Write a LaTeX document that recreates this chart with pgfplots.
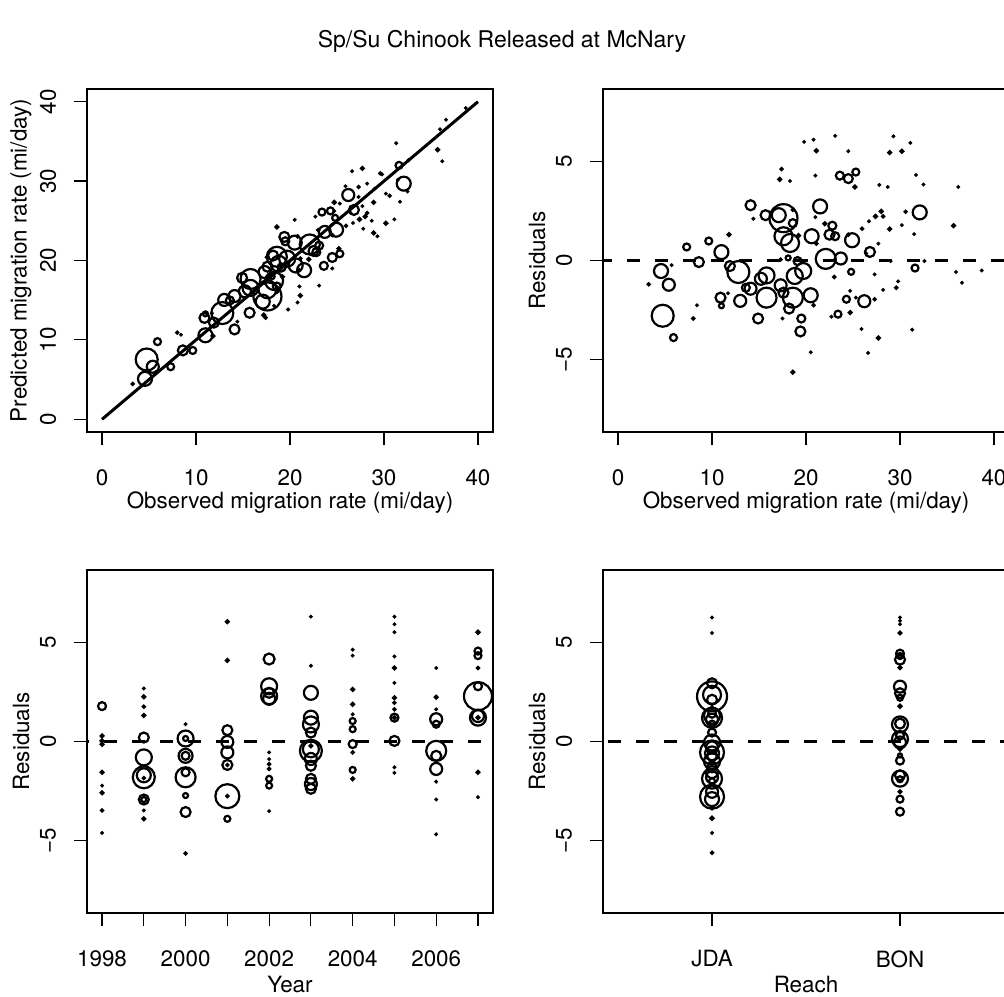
\documentclass[border=0pt]{standalone}
\usepackage{fontspec}
\setmainfont{TeX Gyre Heros}
\usepackage{pgfplots}
\usepackage{pgfplotstable}
\pgfplotsset{compat=1.18}

% observed rate, residual (obs - pred), circle radius (px)
\pgfplotstableread{
x y r
19.8 5.97 0.6
20.8 6.08 0.6
23.1 6.27 0.6
29.3 6.25 0.6
31.1 5.92 0.6
21.1 5.52 1.4
24.5 5.50 0.6
28.9 5.43 1.4
30.2 5.50 1.4
17.4 4.60 1.0
17.2 4.08 1.4
18.3 4.00 0.6
21.0 4.27 0.6
23.6 4.27 4
24.5 4.12 4.5
25.3 4.45 3.5
25.2 3.70 1.4
27.8 3.80 0.6
28.7 3.70 0.6
31.7 4.30 0.6
32.5 3.82 0.6
36.2 3.70 0.6
14.1 2.78 5
14.4 2.10 0.6
15.7 2.28 5
17.1 2.28 7
17.6 2.13 14
18.6 2.55 1.0
18.6 1.88 4
17.6 1.22 9
18.3 0.88 9
19.2 1.25 1.4
20.6 1.22 7
21.5 2.72 7
21.0 2.18 0.6
21.1 0.85 1.0
22.0 1.85 1.4
22.8 1.75 4
22.5 1.30 5
23.1 1.22 4
24.5 1.30 1.0
24.9 1.02 7
25.96 1.60 1.0
26.7 1.97 0.6
27.4 2.22 1.4
28.0 2.47 1.4
28.2 2.22 1.0
28.9 1.58 1.4
30.2 1.78 0.6
30.6 2.45 1.0
32.1 2.42 7
31.5 1.33 0.6
35.7 1.75 1.4
27.7 0.85 0.6
26.8 0.43 5
26.4 0.35 0.6
11.8 1.30 1.4
9.65 0.98 3.5
7.3 0.68 3.5
11.0 0.42 7
8.6 -0.08 5
5.7 -0.23 0.6
4.57 -0.53 7
5.4 -1.22 6
3.26 -1.20 1.0
4.75 -2.78 11
5.9 -3.88 3.5
8.4 -2.25 0.6
8.0 -2.92 1.0
11.9 -0.28 5
12.8 -0.58 11
10.9 -1.87 5
11.0 -2.28 2.5
11.7 -1.65 0.6
13.0 -2.03 6
13.6 -1.37 4
14.1 -1.42 6
15.2 -0.92 6
15.8 -0.75 8
14.9 -2.92 5
15.8 -1.87 10
17.3 -1.25 6
17.6 -1.62 5
18.6 -1.87 10
18.8 -0.78 8
19.7 -0.53 8
19.1 -0.03 4
18.2 -2.42 5
17.5 -2.92 0.6
19.5 -2.92 4
19.4 -3.57 5
20.5 -1.75 7
20.8 -2.25 1.0
20.5 -4.62 0.6
18.6 -5.62 1.4
17.3 0.05 1.0
18.1 0.13 2.5
22.1 0.08 10
23.7 0.10 6
23.0 -0.83 1.0
24.8 -0.57 3
24.3 -1.95 3.5
26.2 -2.05 6
27.3 -1.95 1.0
27.3 -0.70 0.6
28.2 -1.48 0.6
25.3 -1.87 0.6
24.7 -1.53 0.6
23.4 -2.70 3.5
22.7 -2.83 0.6
24.7 -2.62 1.4
25.9 -3.45 0.6
27.7 -3.90 1.4
26.6 -4.65 0.6
29.6 -1.37 1.0
29.8 -1.05 0.6
31.3 -3.48 0.6
31.6 -0.38 3.5
35.96 -0.58 0.6
36.6 -1.12 0.6
38.7 -0.50 0.6
29.0 -0.03 0.6
32.6 -0.03 0.6
}\resobs

% observed rate, predicted rate, circle radius (px)
\pgfplotstableread{
x y r
19.8 13.83 0.6
20.8 14.72 0.6
23.1 16.83 0.6
29.3 23.05 0.6
31.1 25.18 0.6
21.1 15.58 1.4
24.5 19.00 0.6
28.9 23.47 1.4
30.2 24.70 1.4
17.4 12.80 1.0
17.2 13.12 1.4
18.3 14.30 0.6
21.0 16.73 0.6
23.6 19.33 4
24.5 20.38 4.5
25.3 20.85 3.5
25.2 21.50 1.4
27.8 24.00 0.6
28.7 25.00 0.6
31.7 27.40 0.6
32.5 28.68 0.6
36.2 32.50 0.6
14.1 11.32 5
14.4 12.30 0.6
15.7 13.42 5
17.1 14.82 7
17.6 15.47 14
18.6 16.05 1.0
18.6 16.72 4
17.6 16.38 9
18.3 17.42 9
19.2 17.95 1.4
20.6 19.38 7
21.5 18.78 7
21.0 18.82 0.6
21.1 20.25 1.0
22.0 20.15 1.4
22.8 21.05 4
22.5 21.20 5
23.1 21.88 4
24.5 23.20 1.0
24.9 23.88 7
25.96 24.36 1.0
26.7 24.73 0.6
27.4 25.18 1.4
28.0 25.53 1.4
28.2 25.98 1.0
28.9 27.32 1.4
30.2 28.42 0.6
30.6 28.15 1.0
32.1 29.68 7
31.5 30.17 0.6
35.7 33.95 1.4
27.7 26.85 0.6
26.8 26.37 5
26.4 26.05 0.6
11.8 10.50 1.4
9.65 8.67 3.5
7.3 6.62 3.5
11.0 10.58 7
8.6 8.68 5
5.7 5.93 0.6
4.57 5.10 7
5.4 6.62 6
3.26 4.46 1.0
4.75 7.53 11
5.9 9.78 3.5
8.4 10.65 0.6
8.0 10.92 1.0
11.9 12.18 5
12.8 13.38 11
10.9 12.77 5
11.0 13.28 2.5
11.7 13.35 0.6
13.0 15.03 6
13.6 14.97 4
14.1 15.52 6
15.2 16.12 6
15.8 16.55 8
14.9 17.82 5
15.8 17.67 10
17.3 18.55 6
17.6 19.22 5
18.6 20.47 10
18.8 19.58 8
19.7 20.23 8
19.1 19.13 4
18.2 20.62 5
17.5 20.42 0.6
19.5 22.42 4
19.4 22.97 5
20.5 22.25 7
20.8 23.05 1.0
20.5 25.12 0.6
18.6 24.22 1.4
17.3 17.25 1.0
18.1 17.97 2.5
22.1 22.02 10
23.7 23.60 6
23.0 23.83 1.0
24.8 25.37 3
24.3 26.25 3.5
26.2 28.25 6
27.3 29.25 1.0
27.3 28.00 0.6
28.2 29.68 0.6
25.3 27.17 0.6
24.7 26.23 0.6
23.4 26.10 3.5
22.7 25.53 0.6
24.7 27.32 1.4
25.9 29.35 0.6
27.7 31.60 1.4
26.6 31.25 0.6
29.6 30.97 1.0
29.8 30.85 0.6
31.3 34.78 0.6
31.6 31.98 3.5
35.96 36.54 0.6
36.6 37.72 0.6
38.7 39.20 0.6
29.0 29.03 0.6
32.6 32.63 0.6
}\predobs

% year, residual, radius (px)
\pgfplotstableread{
x y r
1998 1.78 4
1998 0.28 1.4
1998 0.03 1.4
1998 -0.14 1.4
1998 -1.55 1.4
1998 -2.22 0.6
1998 -2.58 1.4
1998 -3.47 1.0
1998 -4.60 0.6
1999 2.67 0.6
1999 2.25 1.4
1999 1.75 1.0
1999 1.31 1.4
1999 0.20 5
1999 -0.80 8
1999 -1.80 11
1999 -1.70 7
1999 -1.84 1.0
1999 -2.92 5
1999 -2.92 2.5
1999 -3.47 0.6
1999 -3.89 1.4
2000 0.87 0.6
2000 0.15 8
2000 0.15 2.5
2000 -0.72 7
2000 -0.72 4
2000 -1.80 10
2000 -1.55 4
2000 -2.72 2.5
2000 -3.55 5
2000 -5.63 1.0
2001 6.03 1.4
2001 4.08 1.4
2001 0.57 5
2001 -0.02 6
2001 -0.55 6
2001 -1.18 5
2001 -1.18 1.0
2001 -2.75 12
2001 -2.75 1.0
2001 -3.89 3
2002 4.15 5.5
2002 2.78 8
2002 2.28 8
2002 2.15 6
2002 2.45 5
2002 -0.55 0.6
2002 -0.89 0.6
2002 -1.14 1.0
2002 -1.38 1.0
2002 -1.88 3
2002 -2.22 3
2002 -3.50 0.6
2003 6.28 0.6
2003 3.81 0.6
2003 2.45 7
2003 1.20 7
2003 0.86 8
2003 0.45 5
2003 -0.22 1.4
2003 -0.47 11
2003 -0.39 8
2003 -0.88 6
2003 -1.22 5
2003 -1.88 5
2003 -2.14 6
2003 -2.38 5
2004 4.62 0.6
2004 4.32 0.6
2004 2.62 1.4
2004 1.87 1.4
2004 1.37 0.6
2004 1.03 3
2004 0.62 3
2004 -0.13 4
2004 -0.55 1.0
2004 -1.43 3
2004 -1.88 1.4
2005 6.28 0.6
2005 5.90 0.6
2005 5.50 0.6
2005 4.28 0.6
2005 3.70 1.4
2005 2.95 0.6
2005 2.20 1.4
2005 1.95 1.0
2005 1.62 1.0
2005 1.20 4
2005 1.20 1.4
2005 0.03 5
2005 -1.30 0.6
2005 -1.58 0.6
2006 3.70 0.6
2006 2.23 1.4
2006 1.62 0.6
2006 1.12 6
2006 0.87 3.5
2006 -0.47 10
2006 -0.72 5
2006 -1.38 6
2006 -2.02 0.6
2006 -2.92 0.6
2006 -4.67 0.6
2007 5.50 1.6
2007 4.55 3.5
2007 4.32 3.5
2007 3.70 1.0
2007 2.78 4
2007 2.28 14
2007 1.20 8
2007 1.28 6
2007 1.20 1.4
2007 -1.55 1.4
2007 -2.80 0.6
}\resyear

% reach (1 = JDA, 2 = BON), residual, radius (px)
\pgfplotstableread{
x y r
1 6.24 0.6
1 5.46 0.6
1 2.93 5
1 2.27 15
1 2.35 9
1 2.10 5
1 1.69 1.4
1 1.40 4
1 1.30 8
1 1.19 10
1 1.10 6
1 0.90 3
1 0.45 4
1 -0.05 8
1 -0.30 6
1 -0.55 12
1 -0.60 7
1 -0.71 5
1 -1.00 8
1 -1.20 4
1 -1.30 5
1 -1.54 6
1 -1.87 10
1 -1.80 6
1 -2.00 3
1 -2.53 6
1 -2.78 12
1 -2.90 7
1 -3.36 1.0
1 -3.86 1.6
1 -4.60 0.6
1 -5.60 1.0
2 6.24 0.6
2 6.08 0.6
2 5.90 0.6
2 5.46 1.4
2 4.42 4
2 4.30 3
2 4.12 5
2 3.72 1.4
2 2.76 6
2 2.43 5
2 2.20 3
2 1.77 1.6
2 0.90 5
2 0.86 8
2 0.30 4
2 0.12 8
2 -0.05 6
2 -0.38 1.4
2 -0.70 2
2 -0.96 4
2 -1.70 5
2 -1.87 8
2 -1.90 3
2 -2.53 1.4
2 -2.90 3.5
2 -3.53 4
}\resreach

\pgfplotsset{
  rpanel/.style={
    scale only axis, width=203pt, height=171.5pt,
    axis line style={line width=1.3pt},
    tick align=outside, major tick length=6.5pt,
    tick style={line width=0.6pt, black},
    xtick pos=bottom, ytick pos=left,
    font=\fontsize{11.2}{13.4}\selectfont,
    xticklabel style={anchor=center},
    xticklabel shift=16.5pt,
    yticklabel style={rotate=90, anchor=center},
    yticklabel shift=13pt,
    xlabel style={at={(axis description cs:0.5,0)}, anchor=center, yshift=-35.5pt},
    ylabel style={at={([xshift=-33pt]axis description cs:0,0.5)}, anchor=center},
  },
  bub/.style={scatter, only marks, mark=o, line width=1.1pt,
    scatter/use mapped color={draw=black},
    visualization depends on={\thisrow{r}\as\rad},
    scatter/@pre marker code/.append style={/tikz/mark size=0.5*\rad}},
  resid/.style={ymin=-8.63, ymax=8.63, ytick={-5,0,5}, yticklabels={−5,0,5}, ylabel={Residuals}},
  zeroline/.style={line width=1.5pt, dash pattern=on 6.5pt off 7.5pt},
}

\begin{document}
\begin{tikzpicture}
\node[font=\fontsize{11.5}{13.8}\selectfont, anchor=base] at (251pt,474pt) {Sp/Su Chinook Released at McNary};

% top left
\begin{axis}[rpanel, at={(43.5pt,282pt)}, anchor=south west,
  xmin=-1.6, xmax=41.6, ymin=-1.6, ymax=41.6,
  xtick={0,10,20,30,40}, xticklabels={0,10,20,30,40},
  ytick={0,10,20,30,40}, yticklabels={0,10,20,30,40},
  xlabel={Observed migration rate (mi/day)},
  ylabel={Predicted migration rate (mi/day)}]
\addplot[bub] table[x=x, y=y] {\predobs};
\addplot[line width=1.5pt] coordinates {(0,0) (40,40)};
\end{axis}

% top right
\begin{axis}[rpanel, resid, at={(301.5pt,282pt)}, anchor=south west,
  xmin=-1.6, xmax=41.6,
  xtick={0,10,20,30,40}, xticklabels={0,10,20,30,40},
  xlabel={Observed migration rate (mi/day)}]
\addplot[bub] table[x=x, y=y] {\resobs};
\addplot[zeroline] coordinates {(-5,0) (45,0)};
\end{axis}

% bottom left
\begin{axis}[rpanel, resid, at={(43.5pt,41.5pt)}, anchor=south west,
  xmin=1997.64, xmax=2007.36,
  xtick={1998,1999,2000,2001,2002,2003,2004,2005,2006,2007},
  xticklabels={1998,,2000,,2002,,2004,,2006,},
  xlabel={Year}]
\addplot[bub] table[x=x, y=y] {\resyear};
\addplot[zeroline] coordinates {(1990,0) (2010,0)};
\end{axis}

% bottom right
\begin{axis}[rpanel, resid, at={(301.5pt,41.5pt)}, anchor=south west,
  xmin=0.42, xmax=2.58,
  xtick={1,2}, xticklabels={JDA,BON},
  xlabel={Reach}]
\addplot[bub] table[x=x, y=y] {\resreach};
\addplot[zeroline] coordinates {(0,0) (3,0)};
\end{axis}

\pgfresetboundingbox
\useasboundingbox (0,0) rectangle (502pt,498pt);
\end{tikzpicture}
\end{document}
